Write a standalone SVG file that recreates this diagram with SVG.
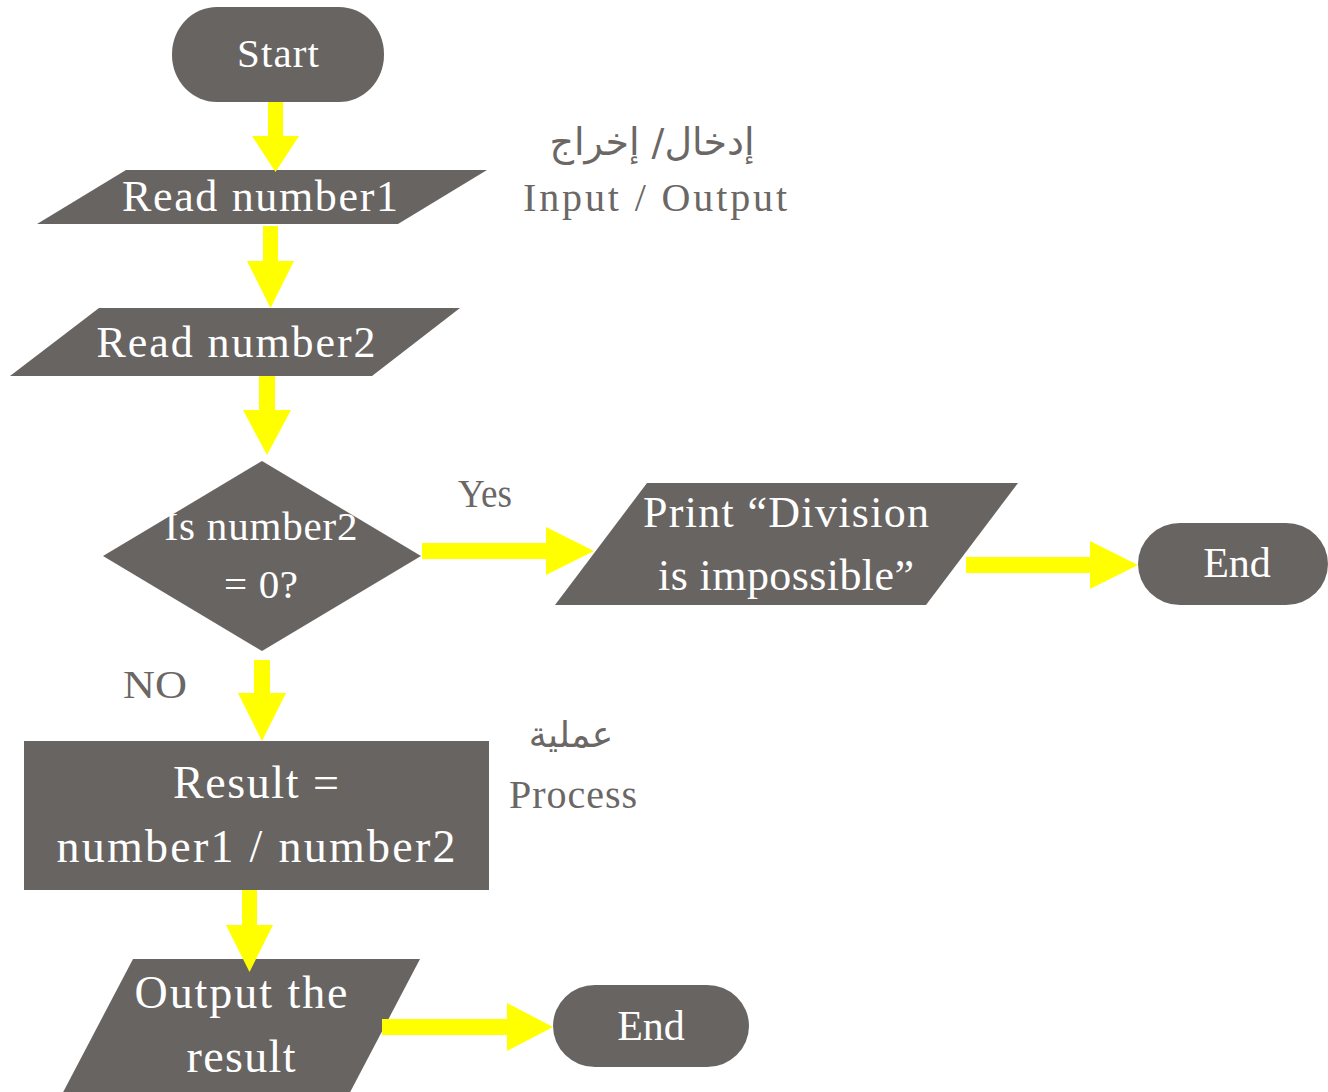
<svg xmlns="http://www.w3.org/2000/svg" width="1328" height="1092" viewBox="0 0 1328 1092">
<style>
.shape{fill:#686462;}
.conn{fill:#ffff00;}
.t{font-family:"Liberation Serif","Times New Roman",serif;fill:#ffffff;text-anchor:middle;}
.lbl{font-family:"Liberation Serif","Times New Roman",serif;fill:#6b6765;text-anchor:middle;}
.ar{font-family:"DejaVu Sans","Noto Sans",sans-serif;fill:#6b6765;text-anchor:middle;}
</style>
<rect width="1328" height="1092" fill="#ffffff"/>
<g id="start">
<rect class="shape" x="172" y="7" width="212" height="95" rx="45" ry="47"/>
<text class="t" x="278" y="67" font-size="41" textLength="82" lengthAdjust="spacing">Start</text>
</g>
<g id="read1">
<polygon class="shape" points="126,170 487,170 398,224 37,224"/>
<text class="t" x="260" y="211" font-size="44" textLength="276" lengthAdjust="spacing">Read number1</text>
</g>
<g id="read2">
<polygon class="shape" points="99,308 460,308 372,376 10,376"/>
<text class="t" x="236" y="357" font-size="44" textLength="279" lengthAdjust="spacing">Read number2</text>
</g>
<g id="decision">
<polygon class="shape" points="262,461 421,556 262,651 103,556"/>
<text class="t" x="261" y="540" font-size="41" textLength="193" lengthAdjust="spacing">Is number2</text>
<text class="t" x="261" y="598" font-size="41" textLength="74" lengthAdjust="spacing">= 0?</text>
</g>
<g id="print">
<polygon class="shape" points="647,483 1018,483 926,605 555,605"/>
<text class="t" x="786" y="527" font-size="44" textLength="286" lengthAdjust="spacing">Print “Division</text>
<text class="t" x="786" y="590" font-size="44" textLength="256" lengthAdjust="spacing">is impossible”</text>
</g>
<g id="end1">
<rect class="shape" x="1138" y="523" width="190" height="82" rx="42" ry="41"/>
<text class="t" x="1237" y="577" font-size="42">End</text>
</g>
<g id="process">
<rect class="shape" x="24" y="741" width="465" height="149"/>
<text class="t" x="256" y="798" font-size="46" textLength="166" lengthAdjust="spacing">Result =</text>
<text class="t" x="256" y="862" font-size="46" textLength="399" lengthAdjust="spacing">number1 / number2</text>
</g>
<g id="output">
<polygon class="shape" points="133,959 420,959 346,1100 59,1100"/>
<text class="t" x="241" y="1008" font-size="46" textLength="213" lengthAdjust="spacing">Output the</text>
<text class="t" x="241" y="1072" font-size="46" textLength="109" lengthAdjust="spacing">result</text>
</g>
<g id="end2">
<rect class="shape" x="553" y="985" width="196" height="82" rx="42" ry="41"/>
<text class="t" x="651" y="1040" font-size="42">End</text>
</g>
<g id="labels">
<text class="ar" x="652" y="155" font-size="38" direction="rtl">إدخال/ إخراج</text>
<text class="lbl" x="655" y="211" font-size="40" textLength="264" lengthAdjust="spacing">Input / Output</text>
<text class="lbl" x="485" y="507" font-size="40" textLength="54" lengthAdjust="spacingAndGlyphs">Yes</text>
<text class="lbl" x="155" y="698" font-size="40" textLength="64" lengthAdjust="spacingAndGlyphs">NO</text>
<text class="ar" x="571" y="747" font-size="36" direction="rtl">عملية</text>
<text class="lbl" x="573" y="808" font-size="40" textLength="128" lengthAdjust="spacing">Process</text>
</g>
<g id="connectors">
<polygon class="conn" points="268,102 283,102 283,136 299,136 275.5,172 252,136 268,136"/>
<polygon class="conn" points="263,226 278,226 278,261 294,261 270.5,308 247,261 263,261"/>
<polygon class="conn" points="259,376 275,376 275,410 291,410 267,455 243,410 259,410"/>
<polygon class="conn" points="254,660 270,660 270,693 286,693 262,741 238,693 254,693"/>
<polygon class="conn" points="242,890 257,890 257,925 273,925 249.5,972 226,925 242,925"/>
<polygon class="conn" points="422,543 546,543 546,527 594,551 546,575 546,559 422,559"/>
<polygon class="conn" points="966,557 1090,557 1090,541 1138,565 1090,589 1090,573 966,573"/>
<polygon class="conn" points="382,1019 507,1019 507,1003 553,1027 507,1051 507,1035 382,1035"/>
</g>
</svg>
